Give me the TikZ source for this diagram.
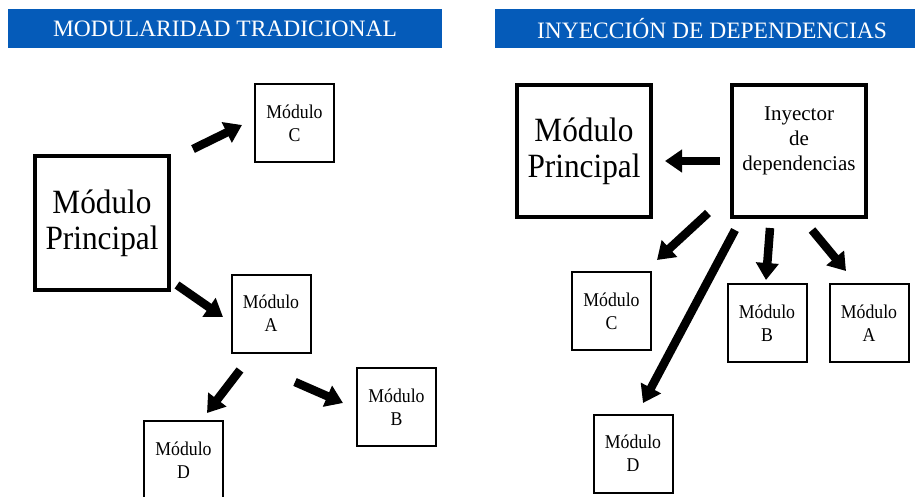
\documentclass[tikz,border=0pt]{standalone}
\usepackage{fontspec}
\setmainfont{Liberation Serif}
\newfontfamily\bignarrow{Liberation Serif}[FakeStretch=0.92]
\newfontfamily\smallnarrow{Liberation Serif}[FakeStretch=0.91]
\usetikzlibrary{arrows.meta}
\definecolor{hdrblue}{RGB}{5,91,185}
\tikzset{
  hdr/.style={fill=hdrblue, draw=none, text=white, inner sep=0pt,
    font=\fontsize{23.5}{28}\selectfont},
  bigbox/.style={draw=black, line width=4pt, minimum width=134pt, minimum height=134pt,
    inner sep=0pt, align=center, font=\bignarrow\fontsize{34}{36}\selectfont},
  smallbox/.style={draw=black, line width=2pt, minimum width=79pt, minimum height=78pt,
    inner sep=0pt, align=center, font=\smallnarrow\fontsize{19.5}{23}\selectfont},
  injtext/.style={inner sep=0pt, align=center, font=\fontsize{21}{25}\selectfont},
  fatarrow/.style={line width=8.5pt, -{Triangle[length=17pt,width=22pt]}}
}
\begin{document}
\begin{tikzpicture}[x=1pt,y=-1pt]
\useasboundingbox (0,0) rectangle (916,496);
\clip (0,0) rectangle (916,496);
% headers
\node[hdr, minimum width=434pt, minimum height=39pt] (h1) at (225,28.5) {MODULARIDAD TRADICIONAL};
\node[hdr, minimum width=420pt, minimum height=39pt] (h2) at (705,28.5) {\hspace{14pt}INYECCIÓN DE DEPENDENCIAS};
% left diagram
\node[bigbox] (lp) at (102,223) {Módulo\\Principal};
\node[smallbox] (lc) at (294.5,123) {Módulo\\C};
\node[smallbox] (la) at (271,313.5) {Módulo\\A};
\node[smallbox] (lb) at (396.5,407) {Módulo\\B};
\node[smallbox] (ld) at (183.5,460) {Módulo\\D};
\coordinate (lpc1) at (193,149); \coordinate (lpc2) at (242,125);
\coordinate (lpa1) at (177,285); \coordinate (lpa2) at (223,317);
\coordinate (lad1) at (240,370); \coordinate (lad2) at (207,413);
\coordinate (lab1) at (295,382); \coordinate (lab2) at (343,403);
\draw[fatarrow] (lpc1) -- (lpc2);
\draw[fatarrow] (lpa1) -- (lpa2);
\draw[fatarrow] (lad1) -- (lad2);
\draw[fatarrow] (lab1) -- (lab2);
% right diagram
\node[bigbox, minimum height=132pt] (rp) at (584,151) {Módulo\\Principal};
\node[bigbox, minimum height=132pt] (inj) at (799,151) {};
\node[injtext] (injt) at (799,141) {Inyector\\de\\dependencias};
\node[smallbox] (rc) at (611.5,311) {Módulo\\C};
\node[smallbox] (rd) at (633,453.5) {Módulo\\D};
\node[smallbox] (rb) at (767,323) {Módulo\\B};
\node[smallbox] (ra) at (869,323) {Módulo\\A};
\coordinate (rip1) at (720,161); \coordinate (rip2) at (665,161);
\coordinate (ric1) at (708,213); \coordinate (ric2) at (657,260);
\coordinate (rid1) at (735,230); \coordinate (rid2) at (643,403);
\coordinate (rib1) at (770,228); \coordinate (rib2) at (766,280);
\coordinate (ria1) at (812,230); \coordinate (ria2) at (846,271);
\draw[fatarrow] (rip1) -- (rip2);
\draw[fatarrow] (ric1) -- (ric2);
\draw[fatarrow] (rid1) -- (rid2);
\draw[fatarrow] (rib1) -- (rib2);
\draw[fatarrow] (ria1) -- (ria2);
\end{tikzpicture}
\end{document}
